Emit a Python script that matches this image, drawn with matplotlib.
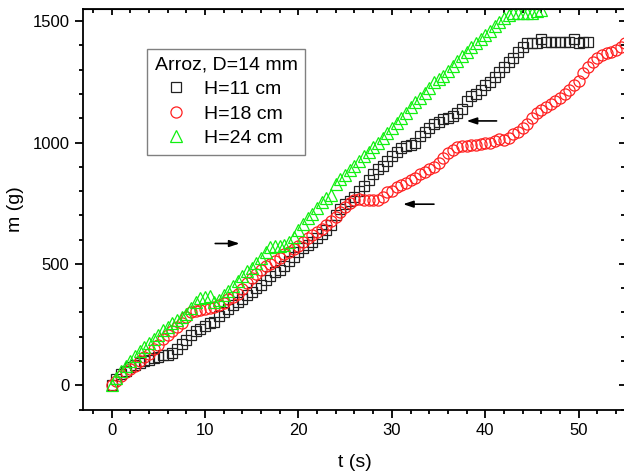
import matplotlib
matplotlib.use('Agg')
import matplotlib.pyplot as plt
from matplotlib.ticker import MultipleLocator

plt.rcParams['font.family'] = ['Liberation Sans', 'DejaVu Sans']

# time (s) and mass (g), H=11 cm
t_11 = [0, 0.5, 1, 1.5, 2, 2.5, 3, 3.5, 4, 4.5, 5, 5.5, 6, 6.5, 7, 7.5, 8, 8.5, 9, 9.5,
        10, 10.5, 11, 11.5, 12, 12.5, 13, 13.5, 14, 14.5, 15, 15.5, 16, 16.5, 17, 17.5, 18, 18.5, 19, 19.5,
        20, 20.5, 21, 21.5, 22, 22.5, 23, 23.5, 24, 24.5, 25, 25.5, 26, 26.5, 27, 27.5, 28, 28.5, 29, 29.5,
        30, 30.5, 31, 31.5, 32, 32.5, 33, 33.5, 34, 34.5, 35, 35.5, 36, 36.5, 37, 37.5, 38, 38.5, 39, 39.5,
        40, 40.5, 41, 41.5, 42, 42.5, 43, 43.5, 44, 44.5, 45, 45.5, 46, 46.5, 47, 47.5, 48, 48.5, 49, 49.5,
        50, 50.5, 51]
m_11 = [0, 25, 45, 60, 75, 85, 92, 98, 105, 112, 118, 125, 125, 132, 150, 170, 185, 205, 222, 230,
        245, 255, 260, 285, 300, 315, 330, 345, 355, 370, 385, 400, 415, 435, 450, 465, 475, 490, 510, 530,
        550, 565, 578, 590, 605, 625, 640, 660, 700, 725, 745, 760, 775, 800, 820, 845, 870, 890, 905, 925,
        945, 960, 978, 985, 990, 1000, 1025, 1045, 1060, 1075, 1085, 1095, 1100, 1110, 1120, 1140, 1170, 1190, 1200, 1215,
        1235, 1250, 1270, 1290, 1310, 1330, 1350, 1375, 1395, 1410, 1410, 1410, 1428, 1415, 1415, 1415, 1415, 1415, 1415, 1428,
        1412, 1415, 1415]

# H=18 cm
t_18 = [0, 0.5, 1, 1.5, 2, 2.5, 3, 3.5, 4, 4.5, 5, 5.5, 6, 6.5, 7, 7.5, 8, 8.5, 9, 9.5,
        10, 10.5, 11, 11.5, 12, 12.5, 13, 13.5, 14, 14.5, 15, 15.5, 16, 16.5, 17, 17.5, 18, 18.5, 19, 19.5,
        20, 20.5, 21, 21.5, 22, 22.5, 23, 23.5, 24, 24.5, 25, 25.5, 26, 26.5, 27, 27.5, 28, 28.5, 29, 29.5,
        30, 30.5, 31, 31.5, 32, 32.5, 33, 33.5, 34, 34.5, 35, 35.5, 36, 36.5, 37, 37.5, 38, 38.5, 39, 39.5,
        40, 40.5, 41, 41.5, 42, 42.5, 43, 43.5, 44, 44.5, 45, 45.5, 46, 46.5, 47, 47.5, 48, 48.5, 49, 49.5,
        50, 50.5, 51, 51.5, 52, 52.5, 53, 53.5, 54, 54.5, 55]
m_18 = [0, 18, 38, 55, 65, 78, 100, 118, 130, 148, 165, 190, 205, 222, 240, 255, 280, 300, 305, 310,
        315, 318, 322, 330, 340, 355, 365, 378, 395, 420, 440, 460, 475, 490, 500, 510, 525, 540, 550, 560,
        575, 590, 605, 618, 630, 645, 660, 675, 695, 715, 735, 750, 762, 768, 765, 765, 765, 765, 775, 795,
        800, 815, 825, 835, 845, 855, 870, 880, 890, 900, 915, 935, 955, 970, 980, 985, 985, 990, 990, 995,
        997, 1000, 1005, 1015, 1010, 1020, 1035, 1045, 1060, 1075, 1100, 1120, 1135, 1145, 1160, 1170, 1185, 1200, 1215, 1235,
        1255, 1285, 1310, 1330, 1350, 1360, 1368, 1372, 1380, 1395, 1412]

# H=24 cm
t_24 = [0, 0.5, 1, 1.5, 2, 2.5, 3, 3.5, 4, 4.5, 5, 5.5, 6, 6.5, 7, 7.5, 8, 8.5, 9, 9.5,
        10, 10.5, 11, 11.5, 12, 12.5, 13, 13.5, 14, 14.5, 15, 15.5, 16, 16.5, 17, 17.5, 18, 18.5, 19, 19.5,
        20, 20.5, 21, 21.5, 22, 22.5, 23, 23.5, 24, 24.5, 25, 25.5, 26, 26.5, 27, 27.5, 28, 28.5, 29, 29.5,
        30, 30.5, 31, 31.5, 32, 32.5, 33, 33.5, 34, 34.5, 35, 35.5, 36, 36.5, 37, 37.5, 38, 38.5, 39, 39.5,
        40, 40.5, 41, 41.5, 42, 42.5, 43, 43.5, 44, 44.5, 45, 45.5, 46]
m_24 = [0, 30, 60, 80, 100, 120, 140, 158, 175, 190, 208, 228, 240, 255, 268, 280, 295, 320, 345, 358,
        362, 368, 345, 350, 370, 390, 410, 430, 450, 470, 485, 505, 525, 550, 568, 575, 575, 578, 590, 610,
        640, 665, 690, 705, 730, 755, 770, 785, 830, 850, 865, 885, 905, 925, 945, 960, 980, 1000, 1020, 1040,
        1060, 1080, 1100, 1120, 1145, 1165, 1185, 1205, 1225, 1250, 1262, 1275, 1295, 1315, 1335, 1355, 1375, 1395, 1410, 1425,
        1445, 1460, 1480, 1495, 1515, 1525, 1535, 1535, 1535, 1535, 1535, 1540, 1545]

labels = ['H=11 cm', 'H=18 cm', 'H=24 cm']
legend_title = 'Arroz, D=14 mm'

# arrows: (tail t, tail m, head t, head m)
arrows = [(10.8, 584, 14.0, 584),
          (34.8, 746, 30.9, 746),
          (41.5, 1089, 37.7, 1089)]

fig = plt.figure(figsize=(6.24, 4.73), dpi=100)
ax = fig.add_axes([0.1338, 0.1342, 0.8686, 0.8467])

ax.plot(t_11, m_11, 's', ms=7.5, mfc='none', mec='#222222', mew=0.9, label=labels[0])
ax.plot(t_18, m_18, 'o', ms=8, mfc='none', mec='#ff2020', mew=0.9, label=labels[1])
ax.plot(t_24, m_24, '^', ms=8, mfc='none', mec='#11f011', mew=0.9, label=labels[2])

for x0, y0, x1, y1 in arrows:
    ax.annotate('', xy=(x1, y1), xytext=(x0, y0),
                arrowprops=dict(arrowstyle='-|>,head_length=0.6,head_width=0.2', color='k', lw=1.2))

ax.set_xlim(-3, 55)
ax.set_ylim(-100, 1550)
ax.xaxis.set_major_locator(MultipleLocator(10))
ax.xaxis.set_minor_locator(MultipleLocator(2))
ax.yaxis.set_major_locator(MultipleLocator(500))
ax.yaxis.set_minor_locator(MultipleLocator(100))

for s in ax.spines.values():
    s.set_linewidth(1.3)

# bottom/left ticks out, top/right ticks in
ax.tick_params(which='both', direction='out', labelsize=12, width=1.3)
ax.tick_params(which='major', length=5.5, pad=4.5)
ax.tick_params(which='minor', length=2.7)
ax2 = ax.secondary_xaxis('top')
ax2.xaxis.set_major_locator(MultipleLocator(10))
ax2.xaxis.set_minor_locator(MultipleLocator(2))
ax2.tick_params(which='both', direction='in', labeltop=False, width=1.3)
ax2.tick_params(which='major', length=4.5)
ax2.tick_params(which='minor', length=2.7)
ax3 = ax.secondary_yaxis('right')
ax3.yaxis.set_major_locator(MultipleLocator(500))
ax3.yaxis.set_minor_locator(MultipleLocator(100))
ax3.tick_params(which='both', direction='in', labelright=False, width=1.3)
ax3.tick_params(which='major', length=4.5)
ax3.tick_params(which='minor', length=2.7)

ax.set_xlabel('t (s)', fontsize=14, labelpad=11)
ax.set_ylabel('m (g)', fontsize=14, labelpad=6)

leg = ax.legend(title=legend_title, loc='upper left', bbox_to_anchor=(0.117, 0.900),
                borderaxespad=0, fontsize=14, title_fontsize=14, fancybox=False,
                edgecolor='#808080', framealpha=1, handlelength=2.2, handletextpad=0.35,
                borderpad=0.4, labelspacing=0.35, alignment='left')
leg.get_frame().set_linewidth(1.0)

fig.savefig('out.png', dpi=100)
